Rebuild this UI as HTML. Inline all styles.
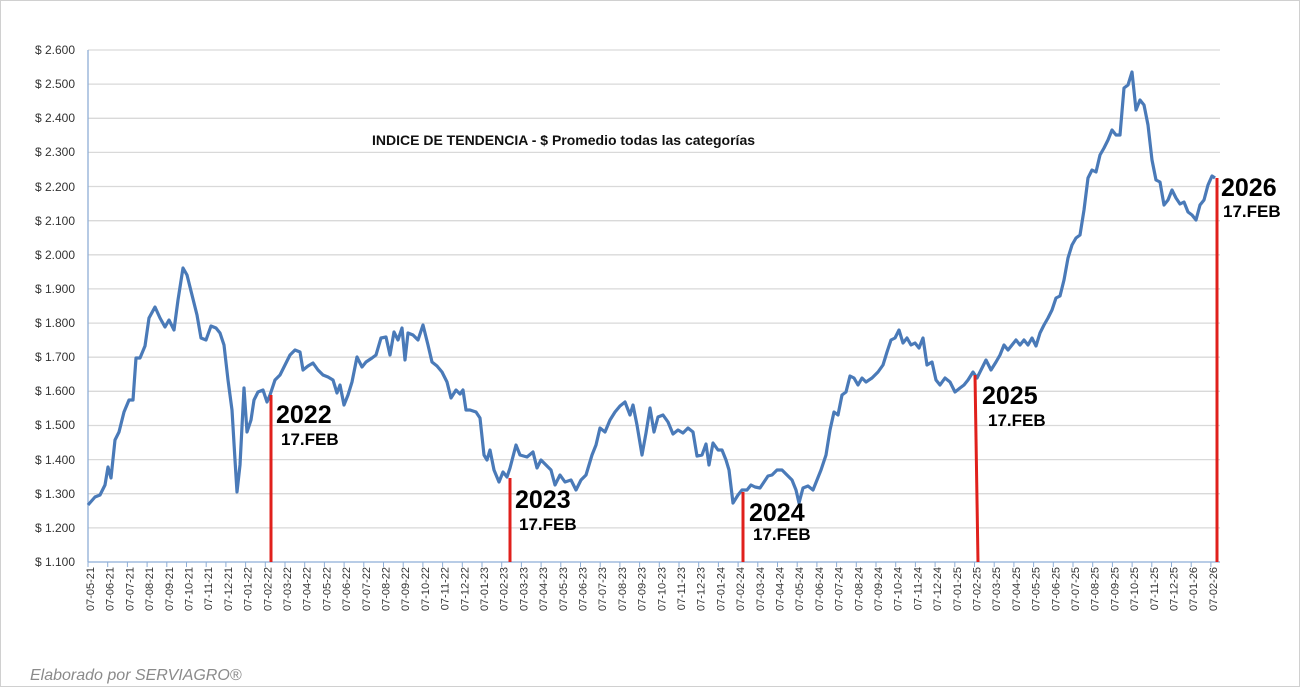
<!DOCTYPE html>
<html><head><meta charset="utf-8"><style>
html,body{margin:0;padding:0;background:#fff;}
svg{display:block;font-family:"Liberation Sans",sans-serif;}
</style></head><body>
<svg width="1300" height="687" viewBox="0 0 1300 687" xmlns="http://www.w3.org/2000/svg">
<rect x="0.5" y="0.5" width="1299" height="686" fill="#fff" stroke="#d0d0d0"/>
<g stroke="#d9d9d9" stroke-width="1.3">
<line x1="88" x2="1220" y1="50" y2="50"/><line x1="88" x2="1220" y1="84.1" y2="84.1"/><line x1="88" x2="1220" y1="118.3" y2="118.3"/><line x1="88" x2="1220" y1="152.4" y2="152.4"/><line x1="88" x2="1220" y1="186.5" y2="186.5"/><line x1="88" x2="1220" y1="220.7" y2="220.7"/><line x1="88" x2="1220" y1="254.8" y2="254.8"/><line x1="88" x2="1220" y1="288.9" y2="288.9"/><line x1="88" x2="1220" y1="323.1" y2="323.1"/><line x1="88" x2="1220" y1="357.2" y2="357.2"/><line x1="88" x2="1220" y1="391.3" y2="391.3"/><line x1="88" x2="1220" y1="425.5" y2="425.5"/><line x1="88" x2="1220" y1="459.6" y2="459.6"/><line x1="88" x2="1220" y1="493.7" y2="493.7"/><line x1="88" x2="1220" y1="527.9" y2="527.9"/>
</g>
<line x1="88" y1="50" x2="88" y2="562" stroke="#8eaed6" stroke-width="1.3"/>
<line x1="88" y1="562" x2="1220" y2="562" stroke="#8eaed6" stroke-width="1.3"/>
<g font-size="12" fill="#333" text-anchor="end">
<text x="75" y="54">$ 2.600</text><text x="75" y="88">$ 2.500</text><text x="75" y="122">$ 2.400</text><text x="75" y="156">$ 2.300</text><text x="75" y="191">$ 2.200</text><text x="75" y="225">$ 2.100</text><text x="75" y="259">$ 2.000</text><text x="75" y="293">$ 1.900</text><text x="75" y="327">$ 1.800</text><text x="75" y="361">$ 1.700</text><text x="75" y="395">$ 1.600</text><text x="75" y="429">$ 1.500</text><text x="75" y="464">$ 1.400</text><text x="75" y="498">$ 1.300</text><text x="75" y="532">$ 1.200</text><text x="75" y="566">$ 1.100</text>
</g>
<g id="xl" font-size="11" fill="#333" text-anchor="end"></g>
<g id="tk" stroke="#8eaed6" stroke-width="1"></g>
<text x="372" y="145" font-size="14" font-weight="bold" fill="#111">INDICE DE TENDENCIA - $ Promedio todas las categorías</text>
<polyline fill="none" stroke="#4a7ab8" stroke-width="3.2" stroke-linejoin="round" points="88,505 95,497 100,495 105,485 108,467 111,478 115,440 119,432 124,412 129,400 133,400 136,358 140,358 145,346 149,318 155,307 160,318 165,327 169,320 174,330 178,300 183,268 187,275 192,295 197,315 201,338 206,340 211,326 216,328 220,333 224,345 228,380 232,410 235,460 237,492 240,465 244,388 247,432 251,420 254,400 258,392 263,390 267,402 270,395 275,380 280,375 285,365 290,355 295,350 300,352 303,370 308,366 313,363 318,370 323,375 328,377 333,380 337,393 340,385 344,405 348,395 352,382 357,357 362,367 366,362 372,358 376,355 381,338 386,337 390,355 394,332 398,340 402,328 405,360 408,333 413,335 418,340 423,325 428,345 432,362 437,366 442,372 447,382 451,398 456,390 460,394 463,390 466,410 470,410 476,412 480,418 484,455 487,460 490,450 494,470 499,482 503,472 507,477 510,468 516,445 520,455 527,457 533,452 537,468 541,460 546,465 551,470 555,485 560,475 565,482 571,480 576,490 581,480 586,475 592,455 596,445 600,428 605,432 610,420 615,412 620,406 625,402 630,415 633,405 637,425 642,455 646,433 650,408 654,432 658,417 663,415 668,422 673,434 678,430 683,433 688,428 693,432 697,456 702,455 706,444 709,465 713,443 718,450 722,450 726,460 729,470 733,503 738,495 742,490 747,490 751,485 755,487 760,488 764,482 768,476 772,475 777,470 782,470 787,475 792,480 796,490 799,503 803,488 808,486 813,490 817,480 821,470 826,455 830,430 834,412 838,415 842,395 846,392 850,376 854,378 858,385 862,378 866,382 872,378 878,372 883,365 887,352 891,340 895,338 899,330 903,343 907,338 911,345 915,343 919,348 923,338 927,365 932,362 936,380 940,385 945,378 950,382 955,392 960,388 964,385 968,380 973,372 977,378 982,368 986,360 991,370 996,362 1000,355 1004,345 1008,350 1012,345 1016,340 1020,345 1024,340 1028,345 1032,338 1036,346 1040,333 1044,325 1048,318 1052,310 1056,298 1060,296 1064,280 1068,258 1072,245 1076,238 1080,235 1084,210 1088,178 1092,170 1096,172 1100,155 1104,148 1108,140 1112,130 1116,135 1120,135 1124,88 1128,85 1132,72 1136,110 1140,100 1144,105 1148,125 1152,160 1156,180 1160,182 1164,205 1168,200 1172,190 1176,198 1180,204 1184,202 1188,212 1192,215 1196,220 1200,205 1204,200 1208,185 1212,176 1215,178"/>
<g stroke="#e0201c" stroke-width="3">
<line x1="271" y1="395" x2="271" y2="562"/><line x1="510" y1="478" x2="510" y2="562"/><line x1="743" y1="492" x2="743" y2="562"/><line x1="975" y1="375" x2="978" y2="562"/><line x1="1217" y1="178" x2="1217" y2="562"/>
</g>
<g fill="#000" font-weight="bold">
<text x="276" y="423" font-size="25">2022</text><text x="281" y="445" font-size="17">17.FEB</text>
<text x="515" y="508" font-size="25">2023</text><text x="519" y="530" font-size="17">17.FEB</text>
<text x="749" y="521" font-size="25">2024</text><text x="753" y="540" font-size="17">17.FEB</text>
<text x="982" y="404" font-size="25">2025</text><text x="988" y="426" font-size="17">17.FEB</text>
<text x="1221" y="196" font-size="25">2026</text><text x="1223" y="217" font-size="17">17.FEB</text>
</g>
<text x="30" y="680" font-size="16" font-style="italic" fill="#8a8a8a">Elaborado por SERVIAGRO®</text>
</svg>
<script>
var xl=document.getElementById('xl'),tk=document.getElementById('tk'),ns="http://www.w3.org/2000/svg";
var m=5,y=21;
for(var i=0;i<58;i++){var x=90+19.7*i;
var t=document.createElementNS(ns,'text');t.setAttribute('transform','translate('+(x+4)+',567) rotate(-90)');
t.textContent='07-'+(m<10?'0':'')+m+'-'+y;xl.appendChild(t);
var l=document.createElementNS(ns,'line');l.setAttribute('x1',x-2);l.setAttribute('x2',x-2);l.setAttribute('y1',562);l.setAttribute('y2',567);tk.appendChild(l);
m++;if(m>12){m=1;y++;}}
</script>
</body></html>
